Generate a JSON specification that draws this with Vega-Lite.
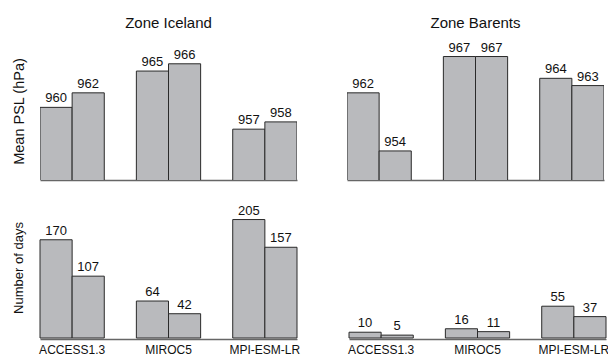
{
  "$schema": "https://vega.github.io/schema/vega-lite/v6.json",
  "padding": {"left": 11, "top": 16, "right": 0, "bottom": 0},
  "background": "white",
  "config": {
    "font": "Liberation Sans",
    "view": {"stroke": null},
    "axis": {"grid": false}
  },
  "datasets": {
    "psl": [
      {"zone": "Zone Iceland", "model": "ACCESS1.3", "run": 1, "value": 960},
      {"zone": "Zone Iceland", "model": "ACCESS1.3", "run": 2, "value": 962},
      {"zone": "Zone Iceland", "model": "MIROC5", "run": 1, "value": 965},
      {"zone": "Zone Iceland", "model": "MIROC5", "run": 2, "value": 966},
      {"zone": "Zone Iceland", "model": "MPI-ESM-LR", "run": 1, "value": 957},
      {"zone": "Zone Iceland", "model": "MPI-ESM-LR", "run": 2, "value": 958},
      {"zone": "Zone Barents", "model": "ACCESS1.3", "run": 1, "value": 962},
      {"zone": "Zone Barents", "model": "ACCESS1.3", "run": 2, "value": 954},
      {"zone": "Zone Barents", "model": "MIROC5", "run": 1, "value": 967},
      {"zone": "Zone Barents", "model": "MIROC5", "run": 2, "value": 967},
      {"zone": "Zone Barents", "model": "MPI-ESM-LR", "run": 1, "value": 964},
      {"zone": "Zone Barents", "model": "MPI-ESM-LR", "run": 2, "value": 963}
    ],
    "days": [
      {"zone": "Zone Iceland", "model": "ACCESS1.3", "run": 1, "value": 170},
      {"zone": "Zone Iceland", "model": "ACCESS1.3", "run": 2, "value": 107},
      {"zone": "Zone Iceland", "model": "MIROC5", "run": 1, "value": 64},
      {"zone": "Zone Iceland", "model": "MIROC5", "run": 2, "value": 42},
      {"zone": "Zone Iceland", "model": "MPI-ESM-LR", "run": 1, "value": 205},
      {"zone": "Zone Iceland", "model": "MPI-ESM-LR", "run": 2, "value": 157},
      {"zone": "Zone Barents", "model": "ACCESS1.3", "run": 1, "value": 10},
      {"zone": "Zone Barents", "model": "ACCESS1.3", "run": 2, "value": 5},
      {"zone": "Zone Barents", "model": "MIROC5", "run": 1, "value": 16},
      {"zone": "Zone Barents", "model": "MIROC5", "run": 2, "value": 11},
      {"zone": "Zone Barents", "model": "MPI-ESM-LR", "run": 1, "value": 55},
      {"zone": "Zone Barents", "model": "MPI-ESM-LR", "run": 2, "value": 37}
    ]
  },
  "spacing": 17,
  "vconcat": [
    {
      "data": {"name": "psl"},
      "facet": {
        "column": {
          "field": "zone",
          "type": "nominal",
          "sort": ["Zone Iceland", "Zone Barents"],
          "header": {"title": null, "labelFontSize": 15, "labelColor": "#111", "labelPadding": 10}
        }
      },
      "spacing": {"column": 50},
      "spec": {
        "width": 257,
        "height": 138,
        "encoding": {
          "x": {
            "field": "model", "type": "nominal",
            "scale": {"paddingInner": 0.333, "paddingOuter": 0},
            "axis": {"title": null, "labels": false, "ticks": false, "domain": true, "domainColor": "#666", "domainWidth": 1.5}
          },
          "xOffset": {"field": "run", "type": "nominal", "scale": {"paddingInner": 0, "paddingOuter": 0}},
          "y": {
            "field": "value", "type": "quantitative",
            "scale": {"domain": [950, 969], "zero": false, "nice": false},
            "axis": {"title": "Mean PSL (hPa)", "titleFontSize": 14.5, "titleFontWeight": "normal", "titleColor": "#111", "titlePadding": 14, "labels": false, "ticks": false, "domain": false}
          }
        },
        "layer": [
          {"mark": {"type": "bar", "fill": "#b9babd", "stroke": "#2a2a2a", "strokeWidth": 1, "clip": true}},
          {
            "mark": {"type": "text", "baseline": "alphabetic", "dy": -5, "fontSize": 13, "color": "#111"},
            "encoding": {"text": {"field": "value", "type": "quantitative"}}
          }
        ]
      }
    },
    {
      "data": {"name": "days"},
      "facet": {
        "column": {
          "field": "zone",
          "type": "nominal",
          "sort": ["Zone Iceland", "Zone Barents"],
          "header": {"title": null, "labels": false}
        }
      },
      "spacing": {"column": 50},
      "spec": {
        "width": 257,
        "height": 141,
        "encoding": {
          "x": {
            "field": "model", "type": "nominal",
            "scale": {"paddingInner": 0.333, "paddingOuter": 0},
            "axis": {"title": null, "labelAngle": 0, "labelFontSize": 12, "labelColor": "#111", "labelPadding": 5, "ticks": false, "domain": true, "domainColor": "#666", "domainWidth": 1.5}
          },
          "xOffset": {"field": "run", "type": "nominal", "scale": {"paddingInner": 0, "paddingOuter": 0}},
          "y": {
            "field": "value", "type": "quantitative",
            "scale": {"domain": [0, 244], "nice": false},
            "axis": {"title": "Number of days", "titleFontSize": 13, "titleFontWeight": "normal", "titleColor": "#111", "titlePadding": 14, "labels": false, "ticks": false, "domain": false}
          }
        },
        "layer": [
          {"mark": {"type": "bar", "fill": "#b9babd", "stroke": "#2a2a2a", "strokeWidth": 1}},
          {
            "mark": {"type": "text", "baseline": "alphabetic", "dy": -5, "fontSize": 13, "color": "#111"},
            "encoding": {"text": {"field": "value", "type": "quantitative"}}
          }
        ]
      }
    }
  ]
}
